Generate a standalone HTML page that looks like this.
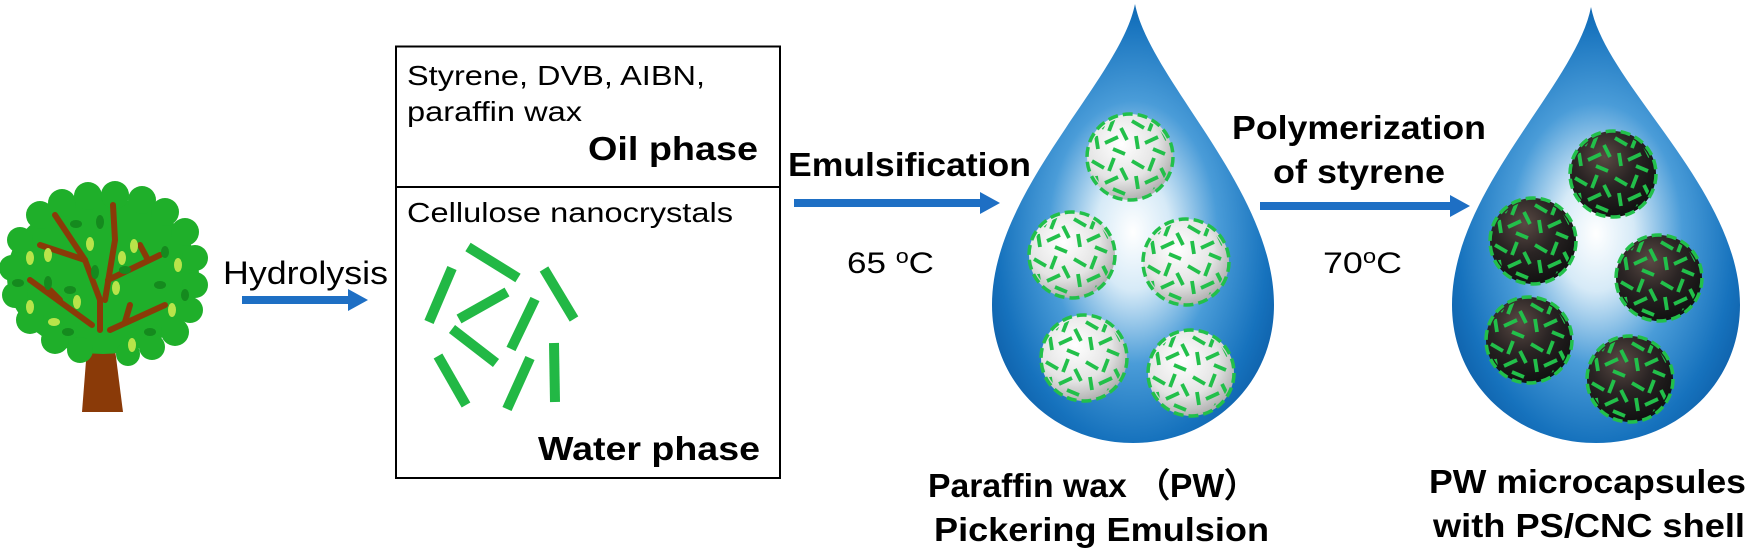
<!DOCTYPE html>
<html><head><meta charset="utf-8"><style>html,body{margin:0;padding:0;background:#fff}svg{display:block}</style></head><body>
<svg width="1747" height="552" viewBox="0 0 1747 552" xmlns="http://www.w3.org/2000/svg" font-family="Liberation Sans, Arial, sans-serif">
<defs>
<radialGradient id="dg" cx="0.5" cy="0.52" r="0.6">
<stop offset="0" stop-color="#ffffff"/><stop offset="0.22" stop-color="#d6eaf7"/><stop offset="0.5" stop-color="#4a9cd8"/><stop offset="0.8" stop-color="#1672bd"/><stop offset="1" stop-color="#0c5aa3"/>
</radialGradient>
<radialGradient id="wg" cx="0.4" cy="0.35" r="0.7"><stop offset="0" stop-color="#ffffff"/><stop offset="0.6" stop-color="#e4e4e4"/><stop offset="1" stop-color="#a9a9a9"/></radialGradient>
<radialGradient id="bg" cx="0.4" cy="0.3" r="0.7"><stop offset="0" stop-color="#5a4a44"/><stop offset="0.5" stop-color="#2a2424"/><stop offset="1" stop-color="#111"/></radialGradient>
<pattern id="rods" width="40" height="40" patternUnits="userSpaceOnUse">
<g stroke="#22c04a" stroke-width="3.8" stroke-linecap="butt">
<line x1="2" y1="4" x2="14" y2="11"/><line x1="24" y1="1" x2="19" y2="14"/><line x1="31" y1="11" x2="37" y2="23"/><line x1="6" y1="19" x2="8" y2="32"/><line x1="15" y1="26" x2="28" y2="20"/><line x1="23" y1="32" x2="35" y2="37"/>
</g></pattern>
<g id="wc"><circle r="43" fill="url(#wg)"/><circle r="40" fill="url(#rods)"/><circle r="43" fill="none" stroke="#22c04a" stroke-width="3.5" stroke-dasharray="10 5"/></g>
<g id="bc"><circle r="43" fill="url(#bg)"/><circle r="40" fill="url(#rods)"/><circle r="43" fill="none" stroke="#22c04a" stroke-width="3.5" stroke-dasharray="10 5"/></g>
<marker id="ah" markerWidth="20" markerHeight="22" refX="2" refY="11" orient="auto" markerUnits="userSpaceOnUse"><path d="M0,0 L20,11 L0,22 Z" fill="#1e6fc4"/></marker>
</defs>

<!-- tree -->
<path d="M90,310 L110,310 L123,412 L82,412 Z" fill="#8a3a08"/>
<g fill="#1faf2a">
<ellipse cx="103" cy="276" rx="96" ry="78"/>
<circle cx="40" cy="215" r="14"/><circle cx="62" cy="203" r="14"/><circle cx="88" cy="196" r="14"/><circle cx="115" cy="195" r="14"/><circle cx="142" cy="200" r="14"/><circle cx="165" cy="212" r="14"/><circle cx="185" cy="232" r="14"/><circle cx="195" cy="258" r="13"/><circle cx="195" cy="285" r="13"/><circle cx="190" cy="310" r="13"/><circle cx="175" cy="332" r="14"/><circle cx="152" cy="347" r="13"/><circle cx="128" cy="354" r="12"/><circle cx="80" cy="350" r="13"/><circle cx="55" cy="340" r="14"/><circle cx="30" cy="320" r="14"/><circle cx="15" cy="295" r="13"/><circle cx="12" cy="268" r="13"/><circle cx="20" cy="240" r="13"/>
</g>
<g stroke="#8a3a08" stroke-width="6" stroke-linecap="round" fill="none">
<path d="M100,330 L100,300 L85,260 L55,215"/><path d="M85,260 L40,245"/><path d="M105,300 L115,240 L113,205"/><path d="M108,280 L160,255"/><path d="M148,260 L140,245"/><path d="M92,325 L30,280"/><path d="M60,300 L50,290"/><path d="M110,330 L165,305"/><path d="M125,322 L130,305"/>
</g>
<g fill="#b8e44a"><ellipse cx="48" cy="255" rx="4" ry="7"/><ellipse cx="122" cy="258" rx="4" ry="7"/><ellipse cx="134" cy="246" rx="4" ry="7"/><ellipse cx="90" cy="244" rx="4" ry="7"/><ellipse cx="30" cy="258" rx="4" ry="7"/><ellipse cx="178" cy="265" rx="4" ry="7"/><ellipse cx="30" cy="307" rx="4" ry="7"/><ellipse cx="77" cy="302" rx="4" ry="7"/><ellipse cx="116" cy="288" rx="4" ry="7"/><ellipse cx="54" cy="322" rx="6" ry="4"/><ellipse cx="172" cy="310" rx="4" ry="7"/><ellipse cx="132" cy="345" rx="4" ry="7"/></g>
<g fill="#158a1e"><ellipse cx="76" cy="224" rx="6" ry="4"/><ellipse cx="100" cy="222" rx="4" ry="7"/><ellipse cx="48" cy="283" rx="4" ry="7"/><ellipse cx="95" cy="272" rx="4" ry="7"/><ellipse cx="125" cy="270" rx="6" ry="4"/><ellipse cx="165" cy="252" rx="4" ry="6"/><ellipse cx="18" cy="283" rx="6" ry="4"/><ellipse cx="70" cy="290" rx="6" ry="4"/><ellipse cx="160" cy="285" rx="6" ry="4"/><ellipse cx="185" cy="295" rx="4" ry="6"/><ellipse cx="68" cy="332" rx="6" ry="4"/><ellipse cx="150" cy="332" rx="6" ry="4"/></g>

<!-- hydrolysis -->
<text x="223" y="284" font-size="32" textLength="165" lengthAdjust="spacingAndGlyphs">Hydrolysis</text>
<line x1="242" y1="300" x2="350" y2="300" stroke="#1e6fc4" stroke-width="8" marker-end="url(#ah)"/>

<!-- box -->
<rect x="396" y="46.5" width="384" height="431.5" fill="none" stroke="#000" stroke-width="2"/>
<line x1="396" y1="187" x2="780" y2="187" stroke="#000" stroke-width="2"/>
<text x="407" y="85" font-size="28" textLength="298" lengthAdjust="spacingAndGlyphs">Styrene, DVB, AIBN,</text>
<text x="407" y="121" font-size="28" textLength="175" lengthAdjust="spacingAndGlyphs">paraffin wax</text>
<text x="588" y="160" font-size="33" font-weight="bold" textLength="170" lengthAdjust="spacingAndGlyphs">Oil  phase</text>
<text x="407" y="222" font-size="28" textLength="326" lengthAdjust="spacingAndGlyphs">Cellulose nanocrystals</text>
<text x="538" y="460" font-size="33" font-weight="bold" textLength="222" lengthAdjust="spacingAndGlyphs">Water  phase</text>
<g stroke="#22b845" stroke-width="10" stroke-linecap="butt">
<line x1="468" y1="247" x2="518" y2="278"/><line x1="452" y1="268" x2="429" y2="322"/><line x1="544" y1="269" x2="574" y2="319"/><line x1="507" y1="292" x2="459" y2="319"/><line x1="535" y1="299" x2="511" y2="349"/><line x1="452" y1="329" x2="496" y2="363"/><line x1="438" y1="356" x2="466" y2="405"/><line x1="530" y1="358" x2="507" y2="409"/><line x1="554" y1="343" x2="555" y2="402"/>
</g>

<!-- emulsification -->
<text x="788" y="176" font-size="33" font-weight="bold" textLength="243" lengthAdjust="spacingAndGlyphs">Emulsification</text>
<line x1="794" y1="203" x2="982" y2="203" stroke="#1e6fc4" stroke-width="8" marker-end="url(#ah)"/>
<text x="847" y="273" font-size="30" textLength="87" lengthAdjust="spacingAndGlyphs">65 <tspan font-size="20" dy="-10">o</tspan><tspan dy="10">C</tspan></text>

<!-- drop 1 -->
<path d="M1135,4 C1150,80 1274,190 1274,305 C1274,385 1210,443 1133,443 C1056,443 992,385 992,305 C992,190 1120,80 1135,4 Z" fill="url(#dg)"/>
<use href="#wc" x="1130" y="157"/><use href="#wc" x="1072" y="255"/><use href="#wc" x="1186" y="262"/><use href="#wc" x="1084" y="358"/><use href="#wc" x="1191" y="373"/>

<!-- polymerization -->
<text x="1232" y="139" font-size="33" font-weight="bold" textLength="254" lengthAdjust="spacingAndGlyphs">Polymerization</text>
<text x="1273" y="183" font-size="33" font-weight="bold" textLength="172" lengthAdjust="spacingAndGlyphs">of styrene</text>
<line x1="1260" y1="206" x2="1452" y2="206" stroke="#1e6fc4" stroke-width="8" marker-end="url(#ah)"/>
<text x="1323" y="273" font-size="30" textLength="79" lengthAdjust="spacingAndGlyphs">70<tspan font-size="20" dy="-10">o</tspan><tspan dy="10">C</tspan></text>

<!-- drop 2 -->
<path d="M1591,7 C1606,85 1740,190 1740,305 C1740,385 1675,443 1596,443 C1517,443 1452,385 1452,305 C1452,190 1576,85 1591,7 Z" fill="url(#dg)"/>
<use href="#bc" x="1613" y="174"/><use href="#bc" x="1533" y="241"/><use href="#bc" x="1659" y="278"/><use href="#bc" x="1529" y="340"/><use href="#bc" x="1630" y="379"/>

<!-- bottom labels -->
<text x="928" y="497" font-size="33" font-weight="bold" textLength="330" lengthAdjust="spacingAndGlyphs">Paraffin wax  （PW）</text>
<text x="934" y="541" font-size="33" font-weight="bold" textLength="335" lengthAdjust="spacingAndGlyphs">Pickering Emulsion</text>
<text x="1429" y="493" font-size="33" font-weight="bold" textLength="317" lengthAdjust="spacingAndGlyphs">PW microcapsules</text>
<text x="1433" y="537" font-size="33" font-weight="bold" textLength="312" lengthAdjust="spacingAndGlyphs">with PS/CNC shell</text>
</svg>
</body></html>
